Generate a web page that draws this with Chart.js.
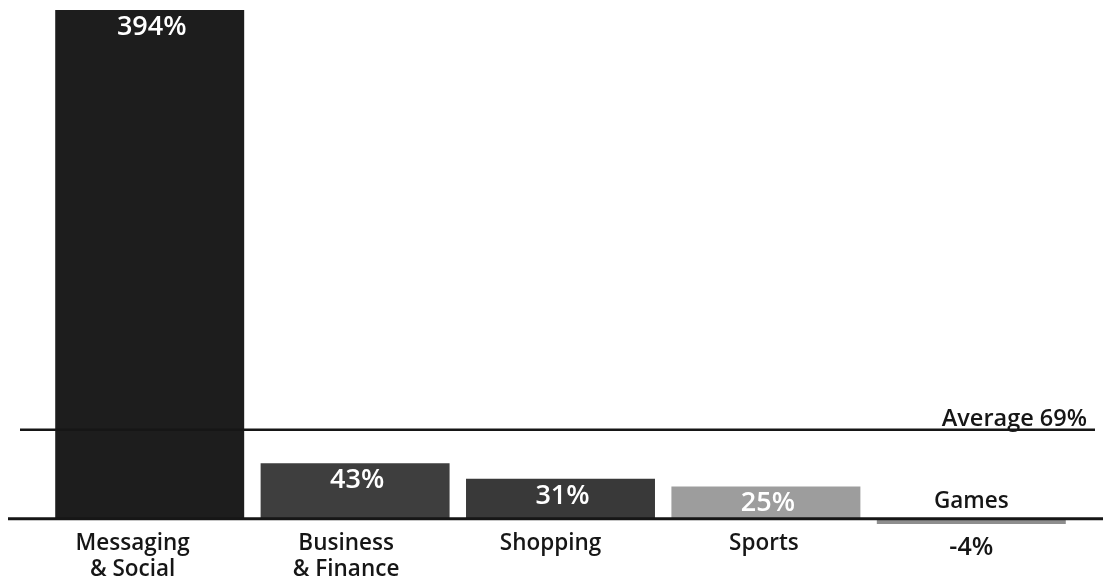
<!DOCTYPE html>
<html>
<head>
<meta charset="utf-8">
<script src="https://cdn.jsdelivr.net/npm/chart.js@4.4.1/dist/chart.umd.min.js"></script>
<style>
  html, body { margin: 0; padding: 0; background: #fff; overflow: hidden; }
  #wrap { width: 1103px; height: 582px; position: relative; }
</style>
</head>
<body>
<div id="wrap"><canvas id="chart" width="1103" height="582"></canvas></div>
<script>
// App category usage growth, year over year
const categories = [['Messaging', '& Social'], ['Business', '& Finance'], ['Shopping'], ['Sports'], ['Games']];
const growth = [394, 43, 31, 25, -4];
const valueLabels = ['394%', '43%', '31%', '25%', '-4%'];
const averageGrowth = 69;
const averageLabel = 'Average 69%';

const barColors = ['#1d1d1d', '#3e3e3e', '#393939', '#9d9d9d', '#8e8e8e'];
const labelShift = [-17, -9, -10, -2, 0];
const FONT = '"Open Sans", "DejaVu Sans", sans-serif';
const INK = '#161616';

const annotations = {
  id: 'annotations',
  afterDatasetsDraw(chart) {
    const { ctx } = chart;
    const y = chart.scales.y;
    const meta = chart.getDatasetMeta(0);
    const zeroY = y.getPixelForValue(0);
    const avgY = y.getPixelForValue(averageGrowth);

    ctx.save();
    ctx.strokeStyle = INK;
    ctx.lineCap = 'butt';

    // zero baseline
    ctx.lineWidth = 3;
    ctx.beginPath();
    ctx.moveTo(8, zeroY);
    ctx.lineTo(1103, zeroY);
    ctx.stroke();

    // average line
    ctx.lineWidth = 2.5;
    ctx.beginPath();
    ctx.moveTo(20, avgY);
    ctx.lineTo(1095, avgY);
    ctx.stroke();

    ctx.fillStyle = INK;
    ctx.font = '600 23.5px ' + FONT;
    ctx.textAlign = 'right';
    ctx.textBaseline = 'alphabetic';
    ctx.fillText(averageLabel, 1087, avgY - 4);

    meta.data.forEach((bar, i) => {
      const cx = bar.x;
      const v = growth[i];
      if (v >= 0) {
        // value inside the top of the bar
        ctx.fillStyle = '#ffffff';
        ctx.font = '600 27px ' + FONT;
        ctx.textAlign = 'center';
        ctx.fillText(valueLabels[i], cx + 2, bar.y + 25);
        // category name under the baseline
        ctx.fillStyle = INK;
        ctx.font = '600 22.5px ' + FONT;
        categories[i].forEach((line, k) => {
          ctx.fillText(line, cx + labelShift[i], zeroY + 31 + k * 26);
        });
      } else {
        // negative bar: name above the baseline, value below
        ctx.fillStyle = INK;
        ctx.font = '600 22.5px ' + FONT;
        ctx.textAlign = 'center';
        ctx.fillText(categories[i][0], cx + labelShift[i], zeroY - 11);
        ctx.font = '600 25px ' + FONT;
        ctx.fillText(valueLabels[i], cx, zeroY + 36);
      }
    });
    ctx.restore();
  }
};

new Chart(document.getElementById('chart'), {
  type: 'bar',
  data: {
    labels: categories,
    datasets: [{
      data: growth,
      backgroundColor: barColors,
      borderWidth: 0,
      barPercentage: 0.92,
      categoryPercentage: 1.0
    }]
  },
  options: {
    responsive: false,
    animation: false,
    layout: { padding: { left: 47, right: 29, top: 10, bottom: 0 } },
    plugins: { legend: { display: false }, tooltip: { enabled: false } },
    scales: {
      x: { display: false },
      y: { display: false, min: -49, max: 394 }
    }
  },
  plugins: [annotations]
});
</script>
</body>
</html>
